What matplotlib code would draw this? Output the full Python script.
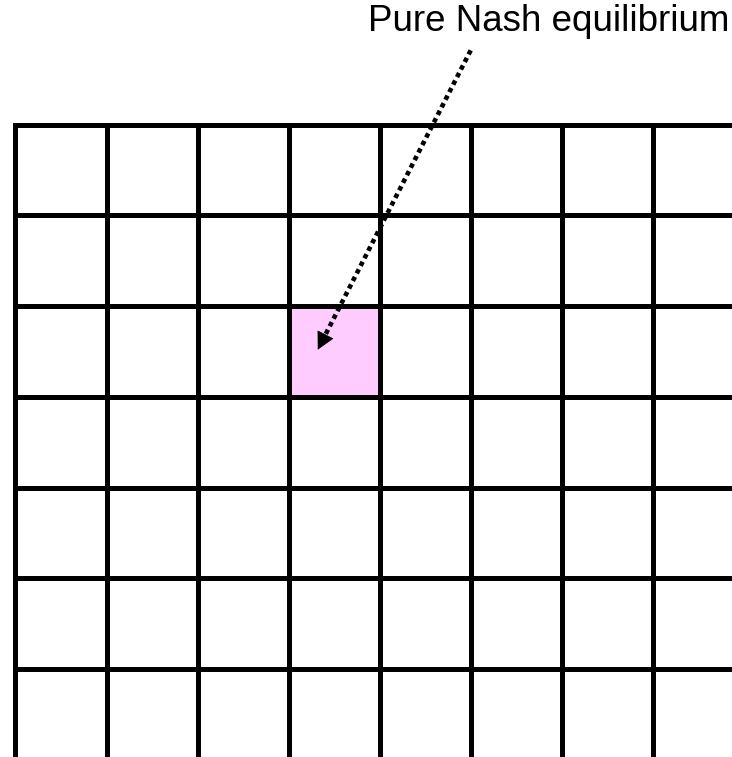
import matplotlib
matplotlib.use("Agg")
import matplotlib.pyplot as plt
from matplotlib.patches import Rectangle

# grid of strategy cells, cropped by the figure edge on the right and bottom
n_cols = 8
n_rows = 7
nash_col = 3
nash_row = 2
label = "Pure Nash equilibrium"

fig = plt.figure(figsize=(7.32, 7.57), dpi=100)
ax = fig.add_axes([0, 0, 1, 1])
ax.set_xlim(-0.17, 7.87)
ax.set_ylim(6.97, -1.375)
ax.axis("off")

# highlighted cell
ax.add_patch(Rectangle((nash_col, nash_row), 1, 1, facecolor="#ffccff",
                       edgecolor="none", zorder=1))

# grid lines
xmax = ax.get_xlim()[1] + 0.1
ymax = ax.get_ylim()[0] + 0.1
for r in range(n_rows):
    ax.plot([0, xmax], [r, r], color="black", lw=3.6,
            solid_capstyle="projecting", zorder=2)
for c in range(n_cols):
    ax.plot([c, c], [0, ymax], color="black", lw=3.6,
            solid_capstyle="projecting", zorder=2)

# label and dotted arrow pointing at the cell
ax.text(7.84, -1.03, label, ha="right", va="baseline",
        fontsize=26.5, family=["Liberation Sans", "DejaVu Sans"])

start = (5.0, -0.82)
tip = (3.32, 2.48)
f = 0.05
near = (tip[0] + f * (start[0] - tip[0]), tip[1] + f * (start[1] - tip[1]))
ax.plot([start[0], near[0]], [start[1], near[1]], color="black", lw=3.3,
        linestyle=(0, (1, 0.85)), dash_capstyle="butt", zorder=3)
ax.annotate("", xy=tip, xytext=near,
            arrowprops=dict(arrowstyle="-|>,head_length=1.15,head_width=0.6",
                            color="black", lw=0.5, shrinkA=0, shrinkB=0,
                            mutation_scale=10),
            zorder=3)

fig.savefig("out.png", dpi=100)
